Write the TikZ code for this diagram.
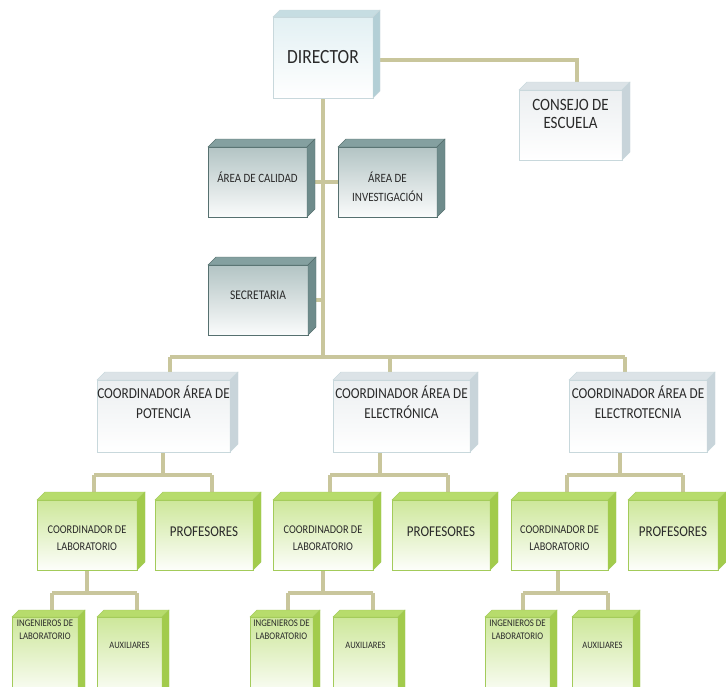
\documentclass[tikz,border=0pt]{standalone}
\usepackage{fontspec}
\usepackage{graphicx}
\setmainfont{Carlito}
\usetikzlibrary{calc}
\pgfdeclarelayer{bg}
\pgfsetlayers{bg,main}
\definecolor{conn}{HTML}{C9C69C}
\definecolor{txt}{HTML}{2A2A2A}
\definecolor{wfront}{HTML}{E2F0F3}
\definecolor{wtop}{HTML}{C6DDE2}
\definecolor{wside}{HTML}{B3CFD6}
\definecolor{wline}{HTML}{C8D8DC}
\definecolor{cfront}{HTML}{ECEFF1}
\definecolor{ctop}{HTML}{DCE3E7}
\definecolor{cside}{HTML}{C8D4DA}
\definecolor{gfront}{HTML}{B3C4C4}
\definecolor{gtop}{HTML}{84A0A0}
\definecolor{gside}{HTML}{6E8B8B}
\definecolor{gline}{HTML}{56706F}
\definecolor{lfront}{HTML}{CDE79A}
\definecolor{ltop}{HTML}{B7DC6C}
\definecolor{lside}{HTML}{A2CB4C}
\definecolor{lline}{HTML}{A3CB5A}
\newcommand\vsx[1]{\scalebox{1}[1.15]{#1}}
\newcommand\bt[4]{\parbox[c][#2][c]{#1}{\centering #4\par\vspace{#3}}}
\newcommand\btop[4]{\parbox[t][#2][t]{#1}{\centering\vspace{#3}#4}}
\newcommand\cuboid[5]{%
  \filldraw[fill=#3,draw=#5,line width=0.4pt] (#1.north west) -- ++(#2,-#2) -- ($(#1.north east)+(#2,-#2)$) -- (#1.north east) -- cycle;
  \filldraw[fill=#4,draw=#5,line width=0.4pt] (#1.north east) -- ++(#2,-#2) -- ($(#1.south east)+(#2,-#2)$) -- (#1.south east) -- cycle;}
\tikzset{
  base/.style={inner sep=0pt,outer sep=0pt,text=txt,line width=0.6pt},
  dirbox/.style={base,draw=wline,top color=wfront,bottom color=white},
  cobox/.style={base,draw=wline,top color=cfront,bottom color=white},
  graybox/.style={base,draw=gline,top color=gfront,bottom color=white!94!gfront},
  greenbox/.style={base,draw=lline,top color=lfront,bottom color=white!96!lfront},
  link/.style={draw=conn,line width=4pt}
}
\begin{document}
\begin{tikzpicture}[x=1pt,y=-1pt]
\clip (0,0) rectangle (726,686);
% top
\node[dirbox] (dir) at (323,57.5) {\bt{100pt}{81pt}{0pt}{\fontsize{17.5}{20}\selectfont \vsx{DIRECTOR}}};
\cuboid{dir}{7}{wtop}{wside}{wline}
\node[cobox] (cons) at (570.5,125) {\bt{103pt}{70pt}{22pt}{\fontsize{15}{18}\selectfont \vsx{CONSEJO DE}\\\vsx{ESCUELA}}};
\cuboid{cons}{8}{ctop}{cside}{wline}
\node[graybox] (cal) at (257.5,182) {\bt{99pt}{70pt}{10pt}{\fontsize{11}{13}\selectfont \vsx{ÁREA DE CALIDAD}}};
\cuboid{cal}{8}{gtop}{gside}{gline}
\node[graybox] (inv) at (387.5,182) {\bt{99pt}{70pt}{-9pt}{\fontsize{11}{19}\selectfont \vsx{ÁREA DE}\\\vsx{INVESTIGACIÓN}}};
\cuboid{inv}{8}{gtop}{gside}{gline}
\node[graybox] (sec) at (258,300) {\bt{100pt}{70pt}{10pt}{\fontsize{11.5}{14}\selectfont \vsx{SECRETARIA}}};
\cuboid{sec}{8}{gtop}{gside}{gline}
% coordinators
\node[cobox] (cpot) at (163.5,416) {\bt{133pt}{72pt}{28pt}{\fontsize{13.2}{20}\selectfont \vsx{COORDINADOR ÁREA DE}\\\vsx{POTENCIA}}};
\cuboid{cpot}{8}{ctop}{cside}{wline}
\node[cobox] (celec) at (401.5,416) {\bt{137pt}{72pt}{28pt}{\fontsize{13.2}{20}\selectfont \vsx{COORDINADOR ÁREA DE}\\\vsx{ELECTRÓNICA}}};
\cuboid{celec}{8}{ctop}{cside}{wline}
\node[cobox] (cet) at (638,416) {\bt{138pt}{72pt}{28pt}{\fontsize{13.2}{20}\selectfont \vsx{COORDINADOR ÁREA DE}\\\vsx{ELECTROTECNIA}}};
\cuboid{cet}{8}{ctop}{cside}{wline}
% green row
\node[greenbox] (lab1) at (87,535) {\bt{100pt}{70pt}{-7pt}{\fontsize{10.3}{17}\selectfont \vsx{COORDINADOR DE}\\\vsx{LABORATORIO}}};
\cuboid{lab1}{8}{ltop}{lside}{lline}
\node[greenbox] (prof1) at (204,535) {\bt{98pt}{70pt}{6pt}{\fontsize{13}{15}\selectfont \vsx{PROFESORES}}};
\cuboid{prof1}{8}{ltop}{lside}{lline}
\node[greenbox] (lab2) at (323,535) {\bt{100pt}{70pt}{-7pt}{\fontsize{10.3}{17}\selectfont \vsx{COORDINADOR DE}\\\vsx{LABORATORIO}}};
\cuboid{lab2}{8}{ltop}{lside}{lline}
\node[greenbox] (prof2) at (441,535) {\bt{98pt}{70pt}{6pt}{\fontsize{13}{15}\selectfont \vsx{PROFESORES}}};
\cuboid{prof2}{8}{ltop}{lside}{lline}
\node[greenbox] (lab3) at (559.5,535) {\bt{97pt}{70pt}{-7pt}{\fontsize{10.3}{17}\selectfont \vsx{COORDINADOR DE}\\\vsx{LABORATORIO}}};
\cuboid{lab3}{8}{ltop}{lside}{lline}
\node[greenbox] (prof3) at (673,535) {\bt{90pt}{70pt}{6pt}{\fontsize{13}{15}\selectfont \vsx{PROFESORES}}};
\cuboid{prof3}{8}{ltop}{lside}{lline}
% bottom row
\node[greenbox,anchor=north] (ing1) at (45,617) {\btop{66pt}{80pt}{3pt}{\fontsize{8.8}{13}\selectfont \vsx{INGENIEROS DE}\\\vsx{LABORATORIO}}};
\cuboid{ing1}{7}{ltop}{lside}{lline}
\node[greenbox,anchor=north] (aux1) at (129.5,617) {\btop{65pt}{80pt}{25pt}{\fontsize{8.5}{10}\selectfont \vsx{AUXILIARES}}};
\cuboid{aux1}{7}{ltop}{lside}{lline}
\node[greenbox,anchor=north] (ing2) at (281.5,617) {\btop{63pt}{80pt}{3pt}{\fontsize{8.8}{13}\selectfont \vsx{INGENIEROS DE}\\\vsx{LABORATORIO}}};
\cuboid{ing2}{7}{ltop}{lside}{lline}
\node[greenbox,anchor=north] (aux2) at (365.5,617) {\btop{65pt}{80pt}{25pt}{\fontsize{8.5}{10}\selectfont \vsx{AUXILIARES}}};
\cuboid{aux2}{7}{ltop}{lside}{lline}
\node[greenbox,anchor=north] (ing3) at (517.5,617) {\btop{65pt}{80pt}{3pt}{\fontsize{8.8}{13}\selectfont \vsx{INGENIEROS DE}\\\vsx{LABORATORIO}}};
\cuboid{ing3}{7}{ltop}{lside}{lline}
\node[greenbox,anchor=north] (aux3) at (602.5,617) {\btop{61pt}{80pt}{25pt}{\fontsize{8.5}{10}\selectfont \vsx{AUXILIARES}}};
\cuboid{aux3}{7}{ltop}{lside}{lline}
% junction coordinates
\coordinate (hub) at (323,357);
\coordinate (c1) at (577,60);
\coordinate (t1) at (170,357);
\coordinate (t2) at (390,357);
\coordinate (t3) at (625,357);
\coordinate (d1) at (163,475);
\coordinate (d2) at (380,475);
\coordinate (d3) at (620,475);
\coordinate (p1l) at (94,475);  \coordinate (p1r) at (212,475);
\coordinate (p2l) at (330,475); \coordinate (p2r) at (448,475);
\coordinate (p3l) at (567,475); \coordinate (p3r) at (683,475);
\coordinate (q1l) at (52,593);  \coordinate (q1r) at (137,593);
\coordinate (q2l) at (288,593); \coordinate (q2r) at (373,593);
\coordinate (q3l) at (523,593); \coordinate (q3r) at (608,593);
\coordinate (q3m) at (558,593);
\begin{pgfonlayer}{bg}
\fill[white] (0,0) rectangle (726,686);
\draw[link] (dir.south) -- (hub);
\draw[link] (dir.east |- c1) -- (c1) -- (c1 |- cons.north);
\draw[link] (cal.east) -- (inv.west);
\draw[link] (sec.east) -- (sec.east -| hub);
\draw[link] (t1) -- (t3);
\draw[link] (t1) -- (t1 |- cpot.north);
\draw[link] (t2) -- (t2 |- celec.north);
\draw[link] (t3) -- (t3 |- cet.north);
\draw[link] (d1 |- cpot.south) -- (d1);
\draw[link] (d2 |- celec.south) -- (d2);
\draw[link] (d3 |- cet.south) -- (d3);
\draw[link] (p1l) -- (p1r);
\draw[link] (p2l) -- (p2r);
\draw[link] (p3l) -- (p3r);
\draw[link] (p1l) -- (p1l |- lab1.north);
\draw[link] (p1r) -- (p1r |- prof1.north);
\draw[link] (p2l) -- (p2l |- lab2.north);
\draw[link] (p2r) -- (p2r |- prof2.north);
\draw[link] (p3l) -- (p3l |- lab3.north);
\draw[link] (p3r) -- (p3r |- prof3.north);
\draw[link] (lab1.south) -- (lab1.south |- q1l);
\draw[link] (lab2.south) -- (lab2.south |- q2l);
\draw[link] (q3m |- lab3.south) -- (q3m);
\draw[link] (q1l) -- (q1r);
\draw[link] (q2l) -- (q2r);
\draw[link] (q3l) -- (q3r);
\draw[link] (q1l) -- (q1l |- ing1.north);
\draw[link] (q1r) -- (q1r |- aux1.north);
\draw[link] (q2l) -- (q2l |- ing2.north);
\draw[link] (q2r) -- (q2r |- aux2.north);
\draw[link] (q3l) -- (q3l |- ing3.north);
\draw[link] (q3r) -- (q3r |- aux3.north);
\end{pgfonlayer}
\end{tikzpicture}
\end{document}
